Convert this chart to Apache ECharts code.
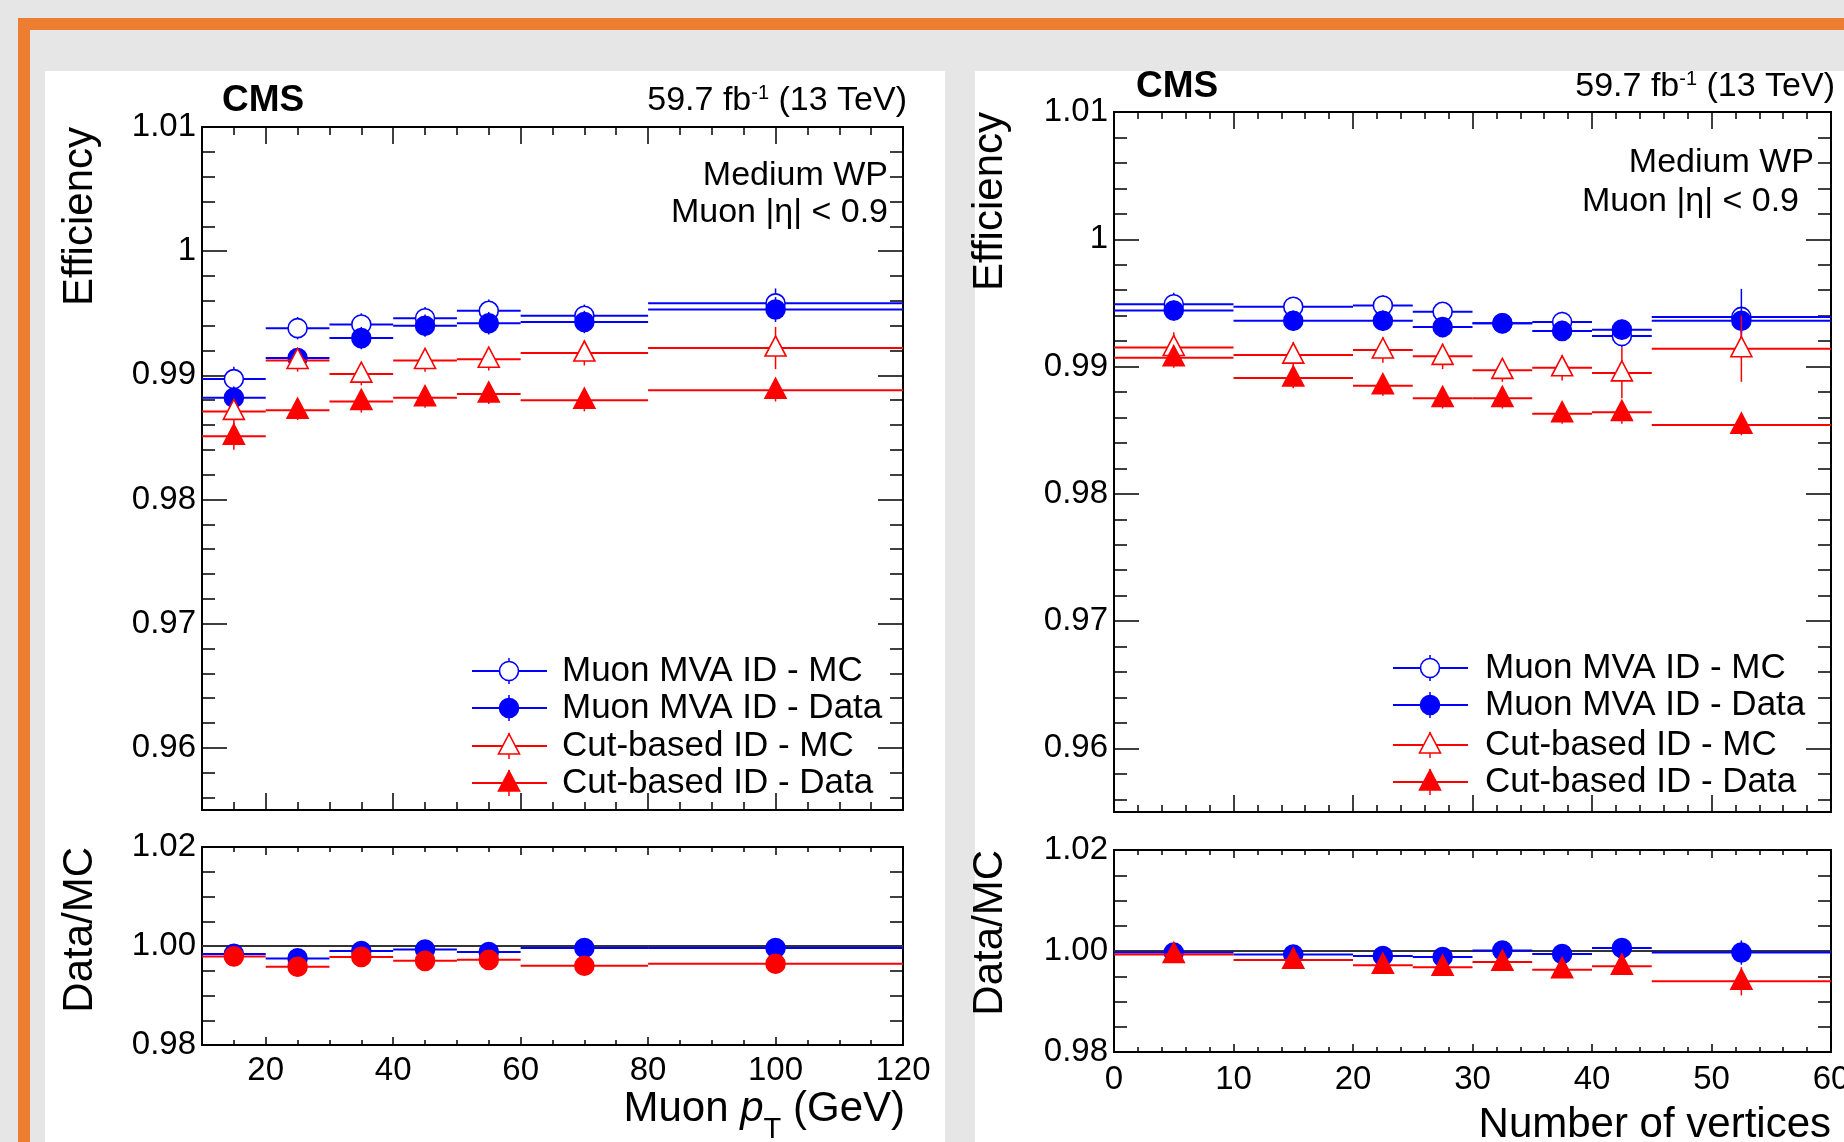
<!DOCTYPE html>
<html>
<head>
<meta charset="utf-8">
<title>Muon ID efficiency</title>
<script src="https://cdn.jsdelivr.net/npm/echarts@6/dist/echarts.min.js"></script>
<style>
html,body{margin:0;padding:0;background:#e6e6e6;}
#main{width:1844px;height:1142px;}
</style>
</head>
<body>
<div id="main"></div>
<script>
// bins
var ptEdges = [10, 20, 30, 40, 50, 60, 80, 120];
var nvtxEdges = [0, 10, 20, 25, 30, 35, 40, 45, 60];

// efficiency vs muon pT
var ptMvaMc       = [0.9897, 0.9938, 0.9941, 0.9946, 0.9952, 0.9948, 0.9958];
var ptMvaMcErr    = [0.0010, 0.0009, 0.0009, 0.0009, 0.0009, 0.0009, 0.0012];
var ptMvaData     = [0.9882, 0.9914, 0.9930, 0.9940, 0.9942, 0.9943, 0.9953];
var ptMvaDataErr  = [0.0009, 0.0007, 0.0009, 0.0009, 0.0009, 0.0009, 0.0010];
var ptCutMc       = [0.9871, 0.9912, 0.9901, 0.9912, 0.9913, 0.9918, 0.9922];
var ptCutMcErr    = [0.0010, 0.0009, 0.0009, 0.0009, 0.0009, 0.0010, 0.0017];
var ptCutData     = [0.9851, 0.9872, 0.9879, 0.9882, 0.9885, 0.9880, 0.9888];
var ptCutDataErr  = [0.0011, 0.0008, 0.0009, 0.0008, 0.0008, 0.0009, 0.0009];
var ptMvaRatio    = [0.9984, 0.9975, 0.9990, 0.9993, 0.9988, 0.9996, 0.9996];
var ptMvaRatioErr = [0.0006, 0.0006, 0.0006, 0.0006, 0.0006, 0.0006, 0.0007];
var ptCutRatio    = [0.9979, 0.9958, 0.9978, 0.9970, 0.9972, 0.9960, 0.9964];
var ptCutRatioErr = [0.0007, 0.0006, 0.0006, 0.0006, 0.0006, 0.0006, 0.0008];

// efficiency vs number of vertices
var nvMvaMc       = [0.9949, 0.9947, 0.9948, 0.9943, 0.9934, 0.9935, 0.9924, 0.9939];
var nvMvaMcErr    = [0.0009, 0.0007, 0.0008, 0.0007, 0.0007, 0.0008, 0.0009, 0.0022];
var nvMvaData     = [0.9944, 0.9936, 0.9936, 0.9931, 0.9934, 0.9928, 0.9929, 0.9936];
var nvMvaDataErr  = [0.0008, 0.0008, 0.0008, 0.0008, 0.0008, 0.0008, 0.0008, 0.0010];
var nvCutMc       = [0.9915, 0.9909, 0.9913, 0.9908, 0.9897, 0.9899, 0.9895, 0.9914];
var nvCutMcErr    = [0.0012, 0.0010, 0.0010, 0.0010, 0.0009, 0.0010, 0.0020, 0.0026];
var nvCutData     = [0.9907, 0.9891, 0.9885, 0.9875, 0.9875, 0.9863, 0.9864, 0.9854];
var nvCutDataErr  = [0.0008, 0.0008, 0.0008, 0.0008, 0.0008, 0.0008, 0.0009, 0.0008];
var nvMvaRatio    = [0.9997, 0.9993, 0.9990, 0.9988, 1.0001, 0.9994, 1.0006, 0.9997];
var nvMvaRatioErr = [0.0006, 0.0006, 0.0006, 0.0006, 0.0006, 0.0006, 0.0007, 0.0024];
var nvCutRatio    = [0.9993, 0.9982, 0.9972, 0.9968, 0.9978, 0.9963, 0.9970, 0.9940];
var nvCutRatioErr = [0.0007, 0.0007, 0.0007, 0.0007, 0.0007, 0.0007, 0.0010, 0.0028];

// tick labels
var effTicks   = [0.96, 0.97, 0.98, 0.99, 1, 1.01];
var ratioTicks = [0.98, 1.00, 1.02];
var ptTicks    = [20, 40, 60, 80, 100, 120];
var nvtxTicks  = [0, 10, 20, 30, 40, 50, 60];

var legendNames = ['Muon MVA ID - MC', 'Muon MVA ID - Data', 'Cut-based ID - MC', 'Cut-based ID - Data'];

var FONT = '"Liberation Sans", Arial, Helvetica, sans-serif';
var BLUE = '#0000ff';
var RED = '#ff0000';
var tickStyle = {color: '#000', width: 1.5};

// tick positions between a and b
function steps(a, b, step){
    var out = [];
    for(var i = 0; a + i*step <= b + step*1e-6; i++){
        out.push(+(a + i*step).toFixed(6));
    }
    return out;
}

var effFmt = function(v){ return Math.abs(v - 1) < 1e-9 ? '1' : String(+v.toFixed(2)); };
var ratioFmt = function(v){ return v.toFixed(2); };
var intFmt = function(v){ return String(Math.round(v)); };

var xAxes = [], yAxes = [];

// two overlapping axes: minor ticks, then major ticks (+labels)
function addAxis(list, grid, pos, min, max, major, minor, majLen, minLen, fmt, margin){
    var base = {
        type: 'value', gridIndex: grid, position: pos, min: min, max: max,
        axisLine: {show: false, onZero: false}, splitLine: {show: false}
    };
    list.push(Object.assign({}, base, {
        axisTick: {show: true, inside: true, length: minLen, customValues: minor, lineStyle: tickStyle},
        axisLabel: {show: false}
    }));
    list.push(Object.assign({}, base, {
        axisTick: {show: true, inside: true, length: majLen, customValues: major, lineStyle: tickStyle},
        axisLabel: fmt ? {
            show: true, customValues: major, formatter: fmt, margin: margin,
            fontSize: 33, color: '#000', fontFamily: FONT, hideOverlap: false
        } : {show: false}
    }));
    return list.length - 1;
}

function markerShape(shape, x, y, color, filled){
    var style = {fill: filled ? color : '#fff', stroke: color, lineWidth: 1.6};
    if(shape == 'circle'){
        return {type: 'circle', shape: {cx: x, cy: y, r: 9.5}, style: style};
    }
    return {type: 'polygon', shape: {points: [[x, y - 12], [x - 10.5, y + 8], [x + 10.5, y + 8]]}, style: style};
}

// binned points with horizontal bin width and vertical error
function errSeries(xi, yi, edges, vals, errs, color, shape, filled){
    var data = vals.map(function(v, i){
        return [(edges[i] + edges[i+1]) / 2, v, edges[i], edges[i+1], errs[i]];
    });
    return {
        type: 'custom', xAxisIndex: xi, yAxisIndex: yi, data: data,
        encode: {x: 0, y: 1},
        renderItem: function(params, api){
            var x = api.value(0), y = api.value(1), e = api.value(4);
            var c = api.coord([x, y]);
            var l = api.coord([api.value(2), y]);
            var r = api.coord([api.value(3), y]);
            var up = api.coord([x, y + e]);
            var dn = api.coord([x, y - e]);
            return {type: 'group', children: [
                {type: 'line', shape: {x1: l[0], y1: c[1], x2: r[0], y2: c[1]}, style: {stroke: color, lineWidth: 2}},
                {type: 'line', shape: {x1: c[0], y1: up[1], x2: c[0], y2: dn[1]}, style: {stroke: color, lineWidth: 1.5}},
                markerShape(shape, c[0], c[1], color, filled)
            ]};
        }
    };
}

function unitySeries(xi, yi, edges){
    return {
        type: 'custom', xAxisIndex: xi, yAxisIndex: yi,
        data: [[edges[0], 1, edges[edges.length - 1]]],
        renderItem: function(params, api){
            var a = api.coord([api.value(0), api.value(1)]);
            var b = api.coord([api.value(2), api.value(1)]);
            return {type: 'line', shape: {x1: a[0], y1: a[1], x2: b[0], y2: b[1]}, style: {stroke: '#333', lineWidth: 2}};
        }
    };
}

// text helpers
var measureCtx = document.createElement('canvas').getContext('2d');
function txt(t, x, y, size, opts){
    opts = opts || {};
    return {
        type: 'text', x: x, y: y, z: 10, rotation: opts.rot || 0,
        style: {
            text: t, fill: '#000', fontSize: size, fontFamily: FONT,
            fontWeight: opts.weight || 'normal', fontStyle: opts.italic ? 'italic' : 'normal',
            align: opts.align || 'left', verticalAlign: 'middle'
        }
    };
}
// pieces laid out left to right, ending at `right`
function pieces(parts, right, y){
    var widths = parts.map(function(p){
        measureCtx.font = (p.italic ? 'italic ' : '') + p.size + 'px ' + FONT;
        return measureCtx.measureText(p.t).width;
    });
    var x = right - widths.reduce(function(a, b){ return a + b; }, 0);
    return parts.map(function(p, i){
        var el = txt(p.t, x, y + (p.dy || 0), p.size, {italic: p.italic});
        x += widths[i];
        return el;
    });
}

function legendBlock(x1, x2, xm, xt, rows){
    var styles = [[BLUE, 'circle', false], [BLUE, 'circle', true], [RED, 'triangle', false], [RED, 'triangle', true]];
    var els = [];
    rows.forEach(function(y, i){
        var s = styles[i];
        els.push({type: 'line', z: 10, shape: {x1: x1, y1: y, x2: x2, y2: y}, style: {stroke: s[0], lineWidth: 2}});
        els.push({type: 'line', z: 10, shape: {x1: xm, y1: y - 13, x2: xm, y2: y + 13}, style: {stroke: s[0], lineWidth: 1.5}});
        var m = markerShape(s[1], xm, y, s[0], s[2]);
        m.z = 11;
        els.push(m);
        els.push(txt(legendNames[i], xt, y, 35));
    });
    return els;
}

// grids: 0 pt upper, 1 pt ratio, 2 nvtx upper, 3 nvtx ratio
var grids = [
    {left: 202, top: 127, width: 701, height: 683},
    {left: 202, top: 847, width: 701, height: 198},
    {left: 1114, top: 112, width: 717, height: 700},
    {left: 1114, top: 850, width: 717, height: 202}
].map(function(g){
    return Object.assign(g, {show: true, borderColor: '#000', borderWidth: 2, backgroundColor: 'transparent', outerBoundsMode: 'none'});
});

var ptMinor = steps(10, 120, 5);
var nvMinor = steps(0, 60, 2);
var effMinor = steps(0.956, 1.01, 0.002);
var ratioMinor = steps(0.98, 1.02, 0.005);

// pt upper
var x0 = addAxis(xAxes, 0, 'bottom', 10, 120, ptTicks, ptMinor, 17, 8);
addAxis(xAxes, 0, 'top', 10, 120, ptTicks, ptMinor, 17, 8);
var y0 = addAxis(yAxes, 0, 'left', 0.955, 1.01, effTicks, effMinor, 25, 13, effFmt, 6);
addAxis(yAxes, 0, 'right', 0.955, 1.01, effTicks, effMinor, 25, 13);
// pt ratio
var x1 = addAxis(xAxes, 1, 'bottom', 10, 120, ptTicks, ptMinor, 8, 5, intFmt, 9);
addAxis(xAxes, 1, 'top', 10, 120, ptTicks, ptMinor, 8, 5);
var y1 = addAxis(yAxes, 1, 'left', 0.98, 1.02, ratioTicks, ratioMinor, 25, 13, ratioFmt, 6);
addAxis(yAxes, 1, 'right', 0.98, 1.02, ratioTicks, ratioMinor, 25, 13);
// nvtx upper
var x2 = addAxis(xAxes, 2, 'bottom', 0, 60, nvtxTicks, nvMinor, 17, 7);
addAxis(xAxes, 2, 'top', 0, 60, nvtxTicks, nvMinor, 17, 7);
var y2 = addAxis(yAxes, 2, 'left', 0.955, 1.01, effTicks, effMinor, 25, 13, effFmt, 6);
addAxis(yAxes, 2, 'right', 0.955, 1.01, effTicks, effMinor, 25, 13);
// nvtx ratio
var x3 = addAxis(xAxes, 3, 'bottom', 0, 60, nvtxTicks, nvMinor, 8, 5, intFmt, 11);
addAxis(xAxes, 3, 'top', 0, 60, nvtxTicks, nvMinor, 8, 5);
var y3 = addAxis(yAxes, 3, 'left', 0.98, 1.02, ratioTicks, ratioMinor, 25, 13, ratioFmt, 6);
addAxis(yAxes, 3, 'right', 0.98, 1.02, ratioTicks, ratioMinor, 25, 13);

var series = [
    errSeries(x0, y0, ptEdges, ptMvaMc, ptMvaMcErr, BLUE, 'circle', false),
    errSeries(x0, y0, ptEdges, ptMvaData, ptMvaDataErr, BLUE, 'circle', true),
    errSeries(x0, y0, ptEdges, ptCutMc, ptCutMcErr, RED, 'triangle', false),
    errSeries(x0, y0, ptEdges, ptCutData, ptCutDataErr, RED, 'triangle', true),
    unitySeries(x1, y1, ptEdges),
    errSeries(x1, y1, ptEdges, ptMvaRatio, ptMvaRatioErr, BLUE, 'circle', true),
    errSeries(x1, y1, ptEdges, ptCutRatio, ptCutRatioErr, RED, 'circle', true),
    errSeries(x2, y2, nvtxEdges, nvMvaMc, nvMvaMcErr, BLUE, 'circle', false),
    errSeries(x2, y2, nvtxEdges, nvMvaData, nvMvaDataErr, BLUE, 'circle', true),
    errSeries(x2, y2, nvtxEdges, nvCutMc, nvCutMcErr, RED, 'triangle', false),
    errSeries(x2, y2, nvtxEdges, nvCutData, nvCutDataErr, RED, 'triangle', true),
    unitySeries(x3, y3, nvtxEdges),
    errSeries(x3, y3, nvtxEdges, nvMvaRatio, nvMvaRatioErr, BLUE, 'circle', true),
    errSeries(x3, y3, nvtxEdges, nvCutRatio, nvCutRatioErr, RED, 'triangle', true)
];

// slide frame, panels and annotations
var graphics = [
    {type: 'rect', z: -5, shape: {x: 18, y: 18, width: 1826, height: 12}, style: {fill: '#ed7d31'}},
    {type: 'rect', z: -5, shape: {x: 18, y: 18, width: 12, height: 1124}, style: {fill: '#ed7d31'}},
    {type: 'rect', z: -5, shape: {x: 45, y: 71, width: 900, height: 1071}, style: {fill: '#fff'}},
    {type: 'rect', z: -5, shape: {x: 975, y: 71, width: 869, height: 1071}, style: {fill: '#fff'}},

    txt('CMS', 222, 101, 37, {weight: 'bold'}),
    txt('CMS', 1136, 87, 37, {weight: 'bold'}),
    txt('Medium WP', 888, 176, 34, {align: 'right'}),
    txt('Muon |η| < 0.9', 888, 213, 34, {align: 'right'}),
    txt('Medium WP', 1814, 163, 34, {align: 'right'}),
    txt('Muon |η| < 0.9', 1799, 202, 34, {align: 'right'}),
    txt('Efficiency', 80, 127, 42, {align: 'right', rot: Math.PI/2}),
    txt('Data/MC', 80, 847, 42, {align: 'right', rot: Math.PI/2}),
    txt('Efficiency', 990, 112, 42, {align: 'right', rot: Math.PI/2}),
    txt('Data/MC', 990, 850, 42, {align: 'right', rot: Math.PI/2}),
    txt('Number of vertices', 1831, 1125, 42, {align: 'right'})
];
graphics = graphics
    .concat(pieces([{t: '59.7 fb', size: 34}, {t: '-1', size: 20, dy: -8}, {t: ' (13 TeV)', size: 34}], 907, 101))
    .concat(pieces([{t: '59.7 fb', size: 34}, {t: '-1', size: 20, dy: -8}, {t: ' (13 TeV)', size: 34}], 1835, 87))
    .concat(pieces([{t: 'Muon ', size: 42}, {t: 'p', size: 42, italic: true}, {t: 'T', size: 29, dy: 21}, {t: ' (GeV)', size: 42}], 905, 1109))
    .concat(legendBlock(472, 547, 509, 562, [671, 708, 746, 783]))
    .concat(legendBlock(1393, 1468, 1430, 1485, [668, 705, 745, 782]));

var chart = echarts.init(document.getElementById('main'));
chart.setOption({
    backgroundColor: '#e6e6e6',
    animation: false,
    grid: grids,
    xAxis: xAxes,
    yAxis: yAxes,
    series: series,
    graphic: graphics
});
</script>
</body>
</html>
